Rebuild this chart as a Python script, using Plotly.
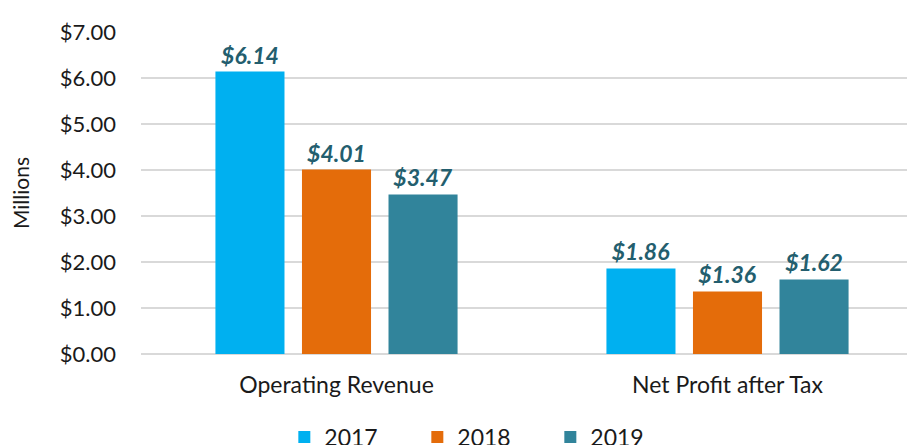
import plotly.graph_objects as go

categories = ["Operating Revenue", "Net Profit after Tax"]
years = ["2017", "2018", "2019"]
values_2017 = [6.14, 1.86]
values_2018 = [4.01, 1.36]
values_2019 = [3.47, 1.62]
y_ticks = [0, 1, 2, 3, 4, 5, 6, 7]

colors = {"2017": "#00B0F0", "2018": "#E46C0A", "2019": "#31849B"}
series = {"2017": values_2017, "2018": values_2018, "2019": values_2019}

font_family = "Lato, 'Open Sans', sans-serif"

fig = go.Figure()
for year in years:
    fig.add_trace(go.Bar(
        x=categories,
        y=series[year],
        name=year,
        marker=dict(color=colors[year], line=dict(width=0)),
        texttemplate="$%{y:.2f}",
        textposition="outside",
        textfont=dict(family=font_family, size=23, color="#235E6E",
                      weight="bold", style="italic"),
        cliponaxis=False,
    ))

# the page body adds an 8px offset, margins account for it
fig.update_layout(
    width=915,
    height=445,
    margin=dict(l=133, r=0, t=24, b=99, autoexpand=False),
    paper_bgcolor="white",
    plot_bgcolor="white",
    font=dict(family=font_family, size=22, color="#1a1a1a"),
    barmode="group",
    bargap=0.336,
    bargroupgap=0.202,
    showlegend=True,
    legend=dict(
        orientation="h",
        xref="container", x=0.302, xanchor="left",
        yref="container", y=0.036, yanchor="middle",
        font=dict(size=23),
        entrywidth=88,
        traceorder="normal",
    ),
)

fig.update_xaxes(
    range=[-0.5, 1.5],
    showline=False,
    showgrid=False,
    ticks="",
    automargin=False,
    tickfont=dict(size=23),
    ticklabelstandoff=15,
)

fig.update_yaxes(
    range=[0, 7],
    tickvals=y_ticks,
    tickformat="$.2f",
    showgrid=True,
    gridcolor="#D9D9D9",
    gridwidth=1.5,
    zeroline=True,
    zerolinecolor="#D9D9D9",
    zerolinewidth=1.5,
    ticks="",
    automargin=False,
    tickfont=dict(size=22),
    ticklabelstandoff=24,
    title=dict(text="Millions", font=dict(size=21), standoff=25),
)

fig.write_html("out.html")
